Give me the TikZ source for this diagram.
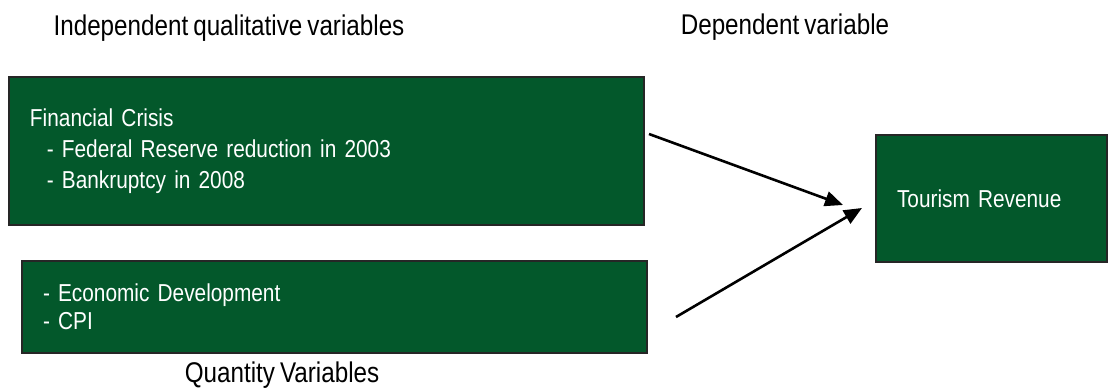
\documentclass[tikz,border=0pt]{standalone}
\usepackage{fontspec}
\setmainfont{Liberation Sans}[FakeStretch=0.85, WordSpace=0.75]
\usetikzlibrary{arrows.meta}
\definecolor{boxgreen}{RGB}{3,88,43}

\begin{document}
\begin{tikzpicture}[x=1pt, y=1pt,
    varbox/.style={draw=black!85, line width=1.5pt, fill=boxgreen, text=white,
        align=left, inner xsep=21pt, font=\fontsize{24.5}{31}\selectfont},
    heading/.style={anchor=base, inner sep=0pt, font=\fontsize{28.5}{32}\selectfont},
    effect/.style={line width=2.6pt, -{Triangle[length=18pt, width=15pt]}}]
    \useasboundingbox (0,0) rectangle (1109,391);

    % Headings
    \node[heading] (indep) at (229,355) {Independent qualitative variables};
    \node[heading] (dep) at (785,356) {Dependent variable};
    \node[heading] (quant) at (282,8) {Quantity Variables};

    % Independent variables
    \node[varbox, text width=593pt, minimum height=148pt] (crisis) at (326.5,240)
        {Financial Crisis\\
        \hspace*{17pt}-\hspace*{8pt}Federal Reserve reduction in 2003\\
        \hspace*{17pt}-\hspace*{8pt}Bankruptcy in 2008};
    \node[varbox, text width=583pt, minimum height=92pt,
        font=\fontsize{24.5}{28}\selectfont] (quantity) at (334.5,84)
        {- Economic Development\\- CPI};

    % Dependent variable
    \node[varbox, text width=189pt, minimum height=127pt] (revenue) at (991.5,192.5)
        {Tourism Revenue};

    % Effects
    \coordinate (crisisout) at (649,257);
    \coordinate (quantout) at (676,74);
    \coordinate (revin1) at (843,186);
    \coordinate (revin2) at (862,183);
    \draw[effect] (crisisout) -- (revin1);
    \draw[effect] (quantout) -- (revin2);
\end{tikzpicture}
\end{document}
